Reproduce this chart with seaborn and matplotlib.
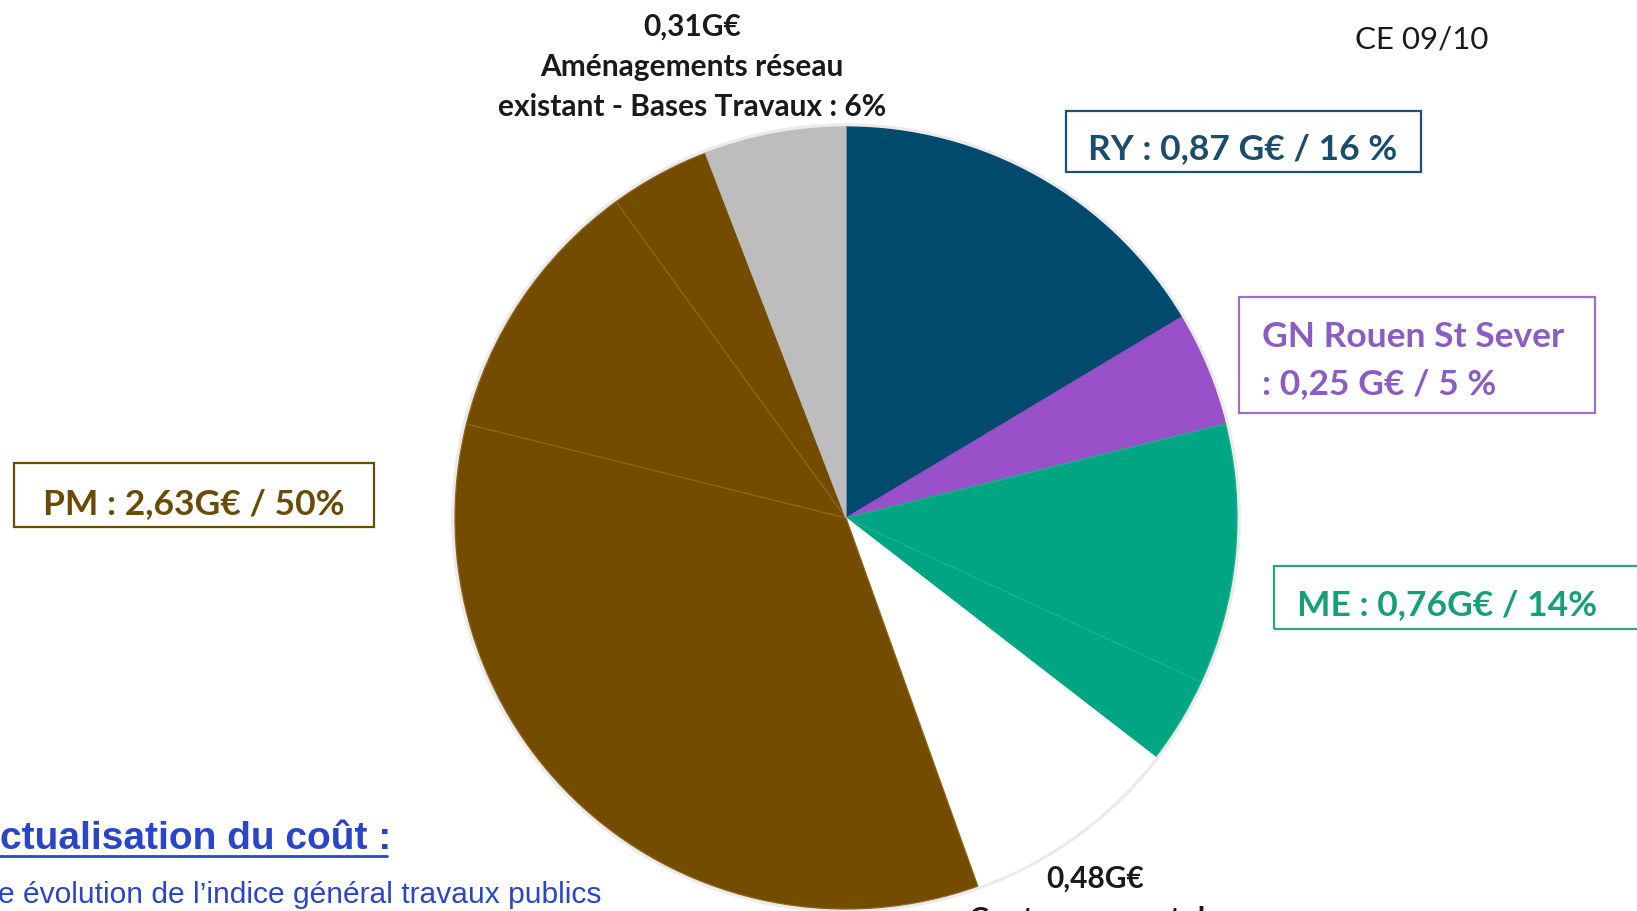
import matplotlib
matplotlib.use("Agg")
import matplotlib.pyplot as plt
import seaborn as sns
from matplotlib.patches import Rectangle, Circle
from matplotlib.lines import Line2D

# ---- data (G€) ----
segments = ["RY", "GN Rouen St Sever", "ME a", "ME b", "Contournement",
            "PM a", "PM b", "PM c", "Aménagements réseau existant"]
values = [0.87, 0.25, 0.57, 0.19, 0.48, 1.82, 0.59, 0.22, 0.31]
colors = ["#004a6e", "#9a50c8", "#00a684", "#00a684", "#ffffff",
          "#744c00", "#744c00", "#744c00", "#bdbdbd"]
edges = ["#004a6e", "#9a50c8", "#19b08f", "#19b08f", "#ffffff",
         "#8e6418", "#8e6418", "#8e6418", "#bdbdbd"]

label_ry = "RY : 0,87 G€ / 16 %"
label_gn = ["GN Rouen St Sever", ": 0,25 G€ / 5 %"]
label_me = "ME : 0,76G€ / 14%"
label_pm = "PM : 2,63G€ / 50%"
label_top = ["0,31G€", "Aménagements réseau", "existant - Bases Travaux : 6%"]
label_bottom = ["0,48G€", "Contournement de"]
label_ce = "CE 09/10"
title_act = "ctualisation du coût :"
sub_act = "e évolution de l’indice général travaux publics"

sns.set_theme(style="white")
plt.rcParams["font.family"] = ["Lato", "DejaVu Sans"]

W, H = 1637, 912
fig = plt.figure(figsize=(W / 100, H / 100), dpi=100)
fig.patch.set_facecolor("white")


def fx(x):
    return x / W


def fy(y):
    return 1 - y / H


# ---- pie ----
cx, cy, r = 846, 519, 391
ax = fig.add_axes([(cx - r) / W, 1 - (cy + r) / H, 2 * r / W, 2 * r / H])
ax.add_patch(Circle((0, 0), 1.008, color="#ebebeb", zorder=0, clip_on=False))
wedges, _ = ax.pie(values, colors=colors, startangle=90, counterclock=False,
                   radius=1, wedgeprops=dict(linewidth=0.9))
for w, ec in zip(wedges, edges):
    w.set_edgecolor(ec)
    w.set_clip_on(False)
    w.set_zorder(2)
ax.set_xlim(-1, 1)
ax.set_ylim(-1, 1)
ax.set_aspect("equal")
ax.axis("off")

bold = dict(fontweight="bold")

# top label
for t, y in zip(label_top, [27, 67, 107]):
    fig.text(fx(692), fy(y), t, ha="center", va="center", fontsize=21.5,
             color="#1a1a1a", **bold)

# CE 09/10
fig.text(fx(1422), fy(40), label_ce, ha="center", va="center", fontsize=22.5,
         color="#1a1a1a")


def box(x0, y0, x1, y1, color):
    fig.add_artist(Rectangle((fx(x0), fy(y1)), fx(x1) - fx(x0), fy(y0) - fy(y1),
                             transform=fig.transFigure, fill=False,
                             edgecolor=color, linewidth=1.6))


BOXFS = 25.5

# RY box
box(1066, 112, 1421, 173, "#1f4e6e")
fig.text(fx(1243), fy(149), label_ry, ha="center", va="center", fontsize=BOXFS,
         color="#1b4d6b", **bold)

# GN box
box(1239, 298, 1595, 414, "#9c6fcb")
fig.text(fx(1262), fy(337), label_gn[0], ha="left", va="center", fontsize=BOXFS,
         color="#8b5cc4", **bold)
fig.text(fx(1262), fy(384), label_gn[1], ha="left", va="center", fontsize=BOXFS,
         color="#8b5cc4", **bold)

# ME box
box(1274, 567, 1645, 630, "#2aa585")
fig.text(fx(1297), fy(605), label_me, ha="left", va="center", fontsize=BOXFS,
         color="#15a07c", **bold)

# PM box
box(14, 464, 374, 528, "#6b4a05")
fig.text(fx(194), fy(504), label_pm, ha="center", va="center", fontsize=BOXFS,
         color="#6b4a05", **bold)

# bottom label
fig.text(fx(1095), fy(879), label_bottom[0], ha="center", va="center",
         fontsize=21.5, color="#1a1a1a", **bold)
fig.text(fx(1095), fy(920), label_bottom[1], ha="center", va="center",
         fontsize=21.5, color="#1a1a1a", **bold)

# Actualisation text
narrow = ["Liberation Sans Narrow", "Liberation Sans", "DejaVu Sans"]
fig.text(fx(0), fy(839), title_act, ha="left", va="center", fontsize=28,
         color="#2a45c8", fontweight="bold", family=narrow)
fig.add_artist(Line2D([fx(0), fx(387)], [fy(857), fy(857)],
                      transform=fig.transFigure, color="#2a45c8", linewidth=2))
fig.text(fx(-2), fy(895), sub_act, ha="left", va="center", fontsize=21.6,
         color="#2a45c8", family=narrow)

fig.savefig("out.png", dpi=100, facecolor="white")
